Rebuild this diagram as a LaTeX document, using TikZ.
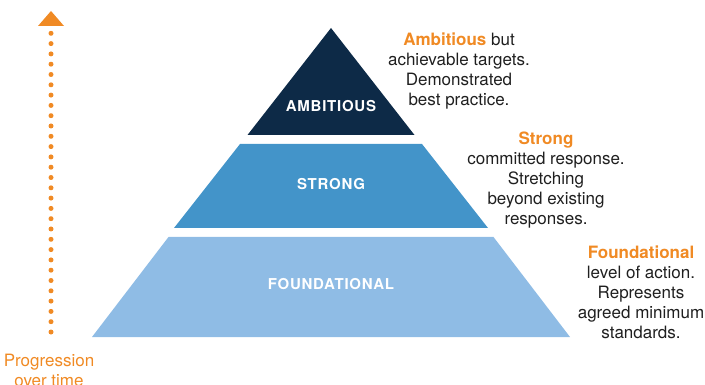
\documentclass[tikz,border=0pt]{standalone}
\usepackage{fontspec}
\setmainfont{TeX Gyre Heros}
\newfontfamily\spacedfont[LetterSpace=5]{TeX Gyre Heros}
\usetikzlibrary{arrows.meta}

\begin{document}
\begin{tikzpicture}
		[x=1pt,y=-1pt,
		levelname/.style={text=white,font=\spacedfont\bfseries\fontsize{15}{17}\selectfont,inner sep=0pt},
		blurb/.style={align=center,text=black!88,font=\fontsize{17}{20}\selectfont,inner sep=0pt}]

        \definecolor{C1}{RGB}{13, 42, 71}
        \definecolor{C2}{RGB}{67, 148, 201}
        \definecolor{C3}{RGB}{143, 188, 229}
        \definecolor{CO}{RGB}{240, 138, 36}

        \useasboundingbox (0,0) rectangle (705,385);

        \coordinate (T1) at (331,28);
        \coordinate (T2) at (247.5,135);
        \coordinate (T3) at (414.5,135);
        \coordinate (S1) at (240,144);
        \coordinate (S2) at (174,228);
        \coordinate (S3) at (488,228);
        \coordinate (S4) at (422,144);
        \coordinate (F1) at (168.5,237);
        \coordinate (F2) at (92,337);
        \coordinate (F3) at (570,337);
        \coordinate (F4) at (493.5,237);

		\fill[C1] (T1) -- (T2) -- (T3) -- cycle;
		\fill[C2] (S1) -- (S2) -- (S3) -- (S4) -- cycle;
		\fill[C3] (F1) -- (F2) -- (F3) -- (F4) -- cycle;

        \node[levelname] (ambitious) at (331,106) {AMBITIOUS};
        \node[levelname] (strong) at (331,184.5) {STRONG};
        \node[levelname] (foundational) at (331,284) {FOUNDATIONAL};

        \node[blurb] (ambitioustext) at (459,71) {{\bfseries\color{CO}Ambitious} but\\achievable targets.\\Demonstrated\\best practice.};
        \node[blurb] (strongtext) at (546,180) {{\bfseries\color{CO}Strong}\\committed response.\\Stretching\\beyond existing\\responses.};
        \node[blurb] (foundationaltext) at (641,292.5) {{\bfseries\color{CO}Foundational}\\level of action.\\Represents\\agreed minimum\\standards.};

        \coordinate (arrowfoot) at (51,332);
        \coordinate (arrowtip) at (51,11);
        \draw[CO,line width=5pt,line cap=round,dash pattern=on 0pt off 10.3pt,
              -{Triangle[width=26pt,length=15pt,line width=0pt]}] (arrowfoot) -- (arrowtip);

        \node[blurb,text=CO] (progress) at (49,370.5) {Progression\\over time};

    \end{tikzpicture}
\end{document}
